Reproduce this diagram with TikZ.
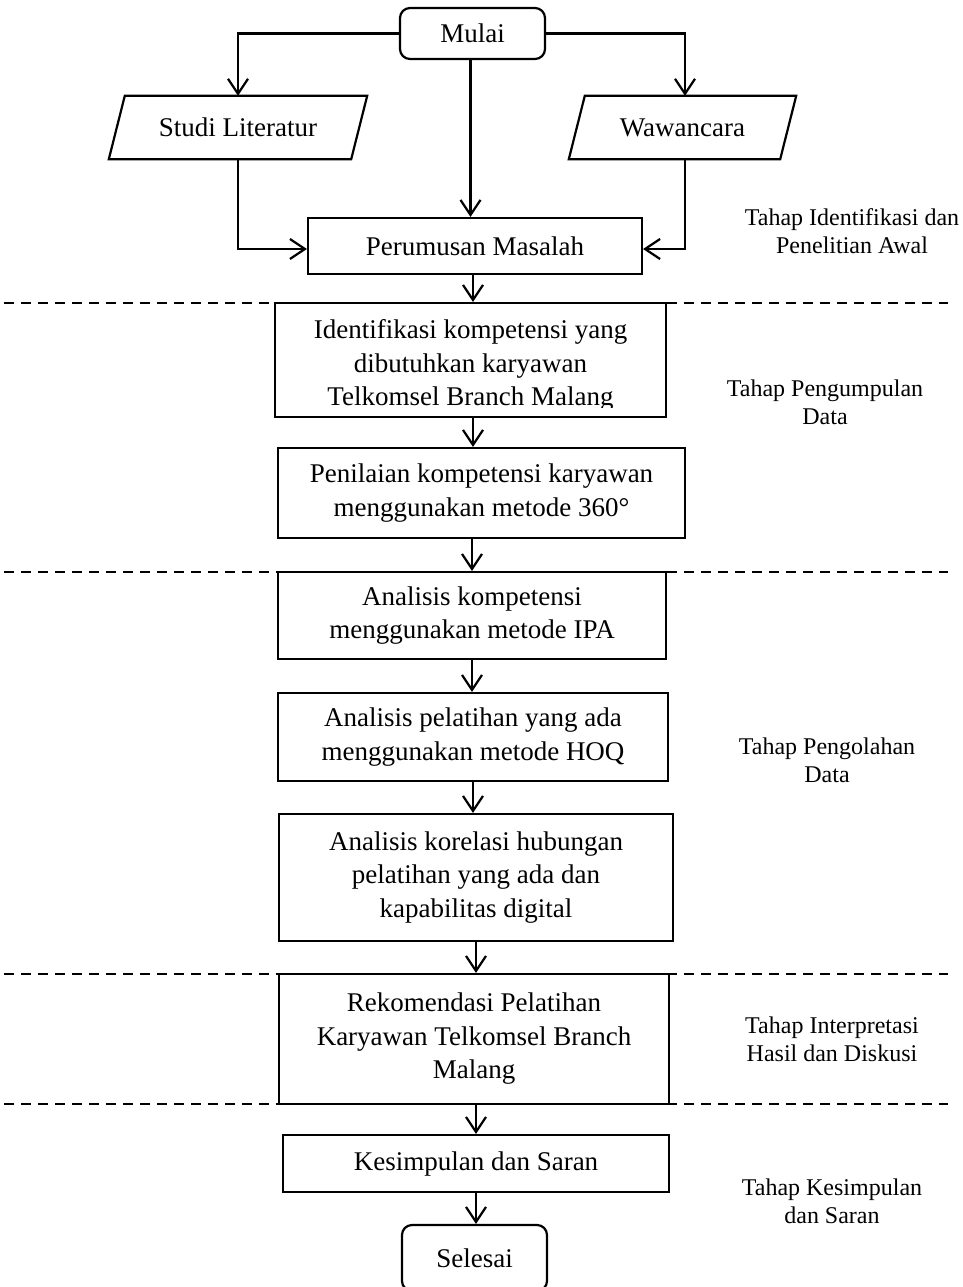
\documentclass[tikz,border=0pt]{standalone}
\usepackage{fontspec}
\setmainfont{Liberation Serif}
\usetikzlibrary{arrows.meta,calc}
\newcommand\mainfnt{\fontsize{27}{33.5}\selectfont}
\newcommand\lblfnt{\fontsize{24}{28}\selectfont}
\tikzset{
  box/.style={draw, line width=2.2pt, rectangle, align=center, font=\mainfnt, inner sep=0pt},
  term/.style={box, rounded corners=10pt},
  io/.style={inner sep=0pt, font=\mainfnt},
  txt/.style={inner sep=0pt, align=center, font=\mainfnt},
  lbl/.style={align=center, font=\lblfnt, inner sep=0pt},
  conn/.style={line width=2.2pt, -{Straight Barb[length=15pt,width=20pt]}},
  plain/.style={line width=2.2pt},
  sep/.style={line width=2.2pt, dash pattern=on 10pt off 7pt},
}
\begin{document}
\begin{tikzpicture}[x=1pt,y=-1pt]
\useasboundingbox (0,0) rectangle (963,1287);

% separators
\draw[sep] (4,303) -- (948,303);
\draw[sep] (4,572) -- (948,572);
\draw[sep] (4,974) -- (948,974);
\draw[sep] (4,1104) -- (948,1104);

% nodes
\node[term, minimum width=145pt, minimum height=51pt] (mulai) at (472.5,33.5) {Mulai};
\node[io, minimum width=242pt, minimum height=63pt] (studi) at (238,127.5) {Studi Literatur};
\draw[plain] ([xshift=8pt]studi.north west) -- ([xshift=8pt]studi.north east) -- ([xshift=-8pt]studi.south east) -- ([xshift=-8pt]studi.south west) -- cycle;
\node[io, minimum width=211pt, minimum height=63pt] (waw) at (682.5,127.5) {Wawancara};
\draw[plain] ([xshift=8pt]waw.north west) -- ([xshift=8pt]waw.north east) -- ([xshift=-8pt]waw.south east) -- ([xshift=-8pt]waw.south west) -- cycle;

\node[box, minimum width=334pt, minimum height=56pt] (perumusan) at (475,246) {Perumusan Masalah};

\node[box, minimum width=391pt, minimum height=114pt] (ident) at (470.5,360) {};
\begin{scope}
  \clip (276,304) rectangle (665,407.5);
  \node[txt] (identtext) at (470.5,365.5) {Identifikasi kompetensi yang\\dibutuhkan karyawan\\Telkomsel Branch Malang};
\end{scope}

\node[box, minimum width=407pt, minimum height=90pt] (penilaian) at (481.5,493) {Penilaian kompetensi karyawan\\menggunakan metode 360°};
\node[box, minimum width=388pt, minimum height=87pt] (an1) at (472,615.5) {Analisis kompetensi\\menggunakan metode IPA};
\node[box, minimum width=390pt, minimum height=88pt] (an2) at (473,737) {Analisis pelatihan yang ada\\menggunakan metode HOQ};
\node[box, minimum width=394pt, minimum height=127pt] (an3) at (476,877.5) {Analisis korelasi hubungan\\pelatihan yang ada dan\\kapabilitas digital};
\node[box, minimum width=390pt, minimum height=130pt] (rek) at (474,1039) {Rekomendasi Pelatihan\\Karyawan Telkomsel Branch\\Malang};
\node[box, minimum width=386pt, minimum height=57pt] (kes) at (476,1163.5) {Kesimpulan dan Saran};
\node[term, minimum width=145pt, minimum height=66pt] (selesai) at (474.5,1258) {Selesai};

% labels
\node[lbl] (l1) at (852,231) {Tahap Identifikasi dan\\Penelitian Awal};
\node[lbl] (l2) at (825,402) {Tahap Pengumpulan\\Data};
\node[lbl] (l3) at (827,760) {Tahap Pengolahan\\Data};
\node[lbl] (l4) at (832,1039) {Tahap Interpretasi\\Hasil dan Diskusi};
\node[lbl] (l5) at (832,1201.5) {Tahap Kesimpulan\\dan Saran};

% connectors
\draw[conn] (mulai.west) -| (studi.north);
\draw[conn] (mulai.east) -| ([xshift=2.5pt]waw.north);
\draw[conn] ([xshift=-2pt]mulai.south) -- ([xshift=-2pt]mulai.south |- perumusan.north);
\draw[conn] (studi.south) |- ([yshift=-3pt]perumusan.west);
\draw[conn] ([xshift=2.5pt]waw.south) |- ([yshift=-3pt]perumusan.east);
\draw[conn] ([xshift=-2pt]perumusan.south) -- ([xshift=-2pt]perumusan.south |- ident.north);
\draw[conn] ([xshift=2.5pt]ident.south) -- ([xshift=2.5pt]ident.south |- penilaian.north);
\draw[conn] (an1.north |- penilaian.south) -- (an1.north);
\draw[conn] (an1.south) -- (an1.south |- an2.north);
\draw[conn] (an2.south) -- (an2.south |- an3.north);
\draw[conn] (an3.south) -- (an3.south |- rek.north);
\draw[conn] ([xshift=2pt]rek.south) -- ([xshift=2pt]rek.south |- kes.north);
\draw[conn] (kes.south) -- (kes.south |- selesai.north);
\end{tikzpicture}
\end{document}
